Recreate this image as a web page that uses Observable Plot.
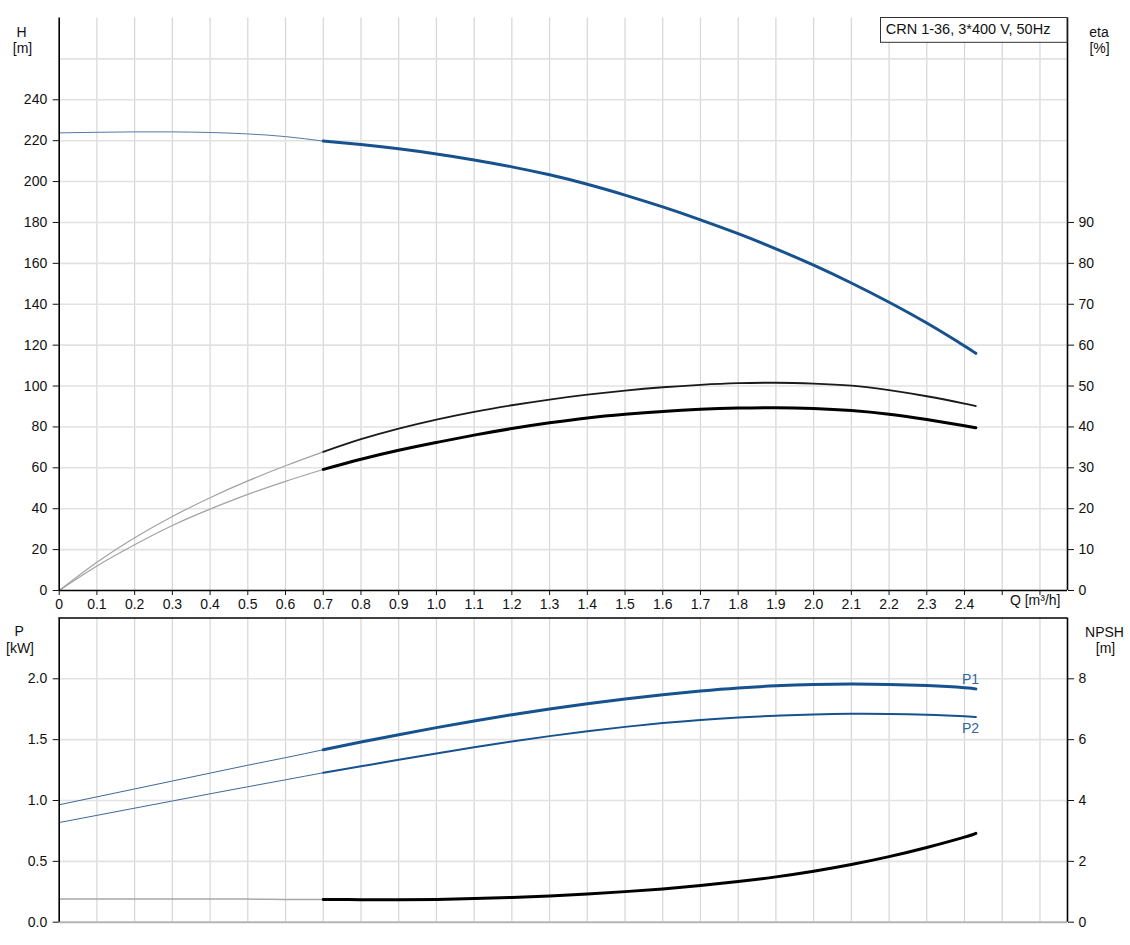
<!DOCTYPE html>
<html><head><meta charset="utf-8">
<script src="https://cdn.jsdelivr.net/npm/d3@7"></script>
<script src="https://cdn.jsdelivr.net/npm/@observablehq/plot@0.6"></script>
<style>
html,body{margin:0;padding:0;background:#fff;}
#chart{width:1130px;height:945px;position:relative;overflow:hidden;background:#fff}
#chart svg{display:block}
</style></head><body><div id="chart"></div>
<script>
// ---- data ----
const qThin  = [0, 0.1, 0.2, 0.3, 0.4, 0.5, 0.6, 0.7];
const qThick = [0.7, 0.8, 0.9, 1.0, 1.1, 1.2, 1.3, 1.4, 1.5, 1.6, 1.7, 1.8, 1.9, 2.0, 2.1, 2.2, 2.3, 2.4, 2.43];

const headThin  = [223.8, 224.1, 224.3, 224.3, 224.0, 223.3, 222.0, 219.8];
const headThick = [219.8, 218.1, 216.0, 213.5, 210.6, 207.2, 203.3, 198.7, 193.4, 187.6, 181.3, 174.5, 167.1, 159.1, 150.4, 141.0, 130.8, 119.6, 116.0];

const etaUpperThin  = [0, 6.9, 12.9, 18.1, 22.7, 26.8, 30.5, 33.9];
const etaUpperThick = [33.9, 37.0, 39.6, 41.8, 43.7, 45.3, 46.7, 47.9, 48.9, 49.7, 50.3, 50.7, 50.8, 50.6, 50.1, 49.0, 47.5, 45.7, 45.1];
const etaLowerThin  = [0, 6.0, 11.2, 15.9, 19.9, 23.5, 26.7, 29.6];
const etaLowerThick = [29.6, 32.1, 34.3, 36.2, 38.0, 39.6, 41.0, 42.2, 43.1, 43.8, 44.3, 44.6, 44.7, 44.5, 44.0, 43.1, 41.8, 40.3, 39.8];

const p1Thin  = [0.965, 1.03, 1.095, 1.16, 1.225, 1.29, 1.352, 1.417];
const p1Thick = [1.417, 1.480, 1.541, 1.599, 1.654, 1.705, 1.752, 1.795, 1.834, 1.869, 1.899, 1.924, 1.942, 1.953, 1.957, 1.954, 1.944, 1.927, 1.917];
const p2Thin  = [0.819, 0.878, 0.937, 0.996, 1.055, 1.113, 1.17, 1.228];
const p2Thick = [1.228, 1.281, 1.334, 1.386, 1.437, 1.485, 1.529, 1.569, 1.605, 1.636, 1.662, 1.682, 1.697, 1.707, 1.712, 1.711, 1.704, 1.692, 1.686];

const npshThin  = [0.76, 0.76, 0.76, 0.76, 0.76, 0.76, 0.75, 0.75];
const npshThick = [0.75, 0.74, 0.74, 0.75, 0.775, 0.815, 0.865, 0.93, 1.005, 1.095, 1.205, 1.335, 1.49, 1.675, 1.895, 2.155, 2.455, 2.795, 2.92];

// ---- axes / ticks ----
const xDomain = [0, 2.673];
const xTicks = [0,0.1,0.2,0.3,0.4,0.5,0.6,0.7,0.8,0.9,1.0,1.1,1.2,1.3,1.4,1.5,1.6,1.7,1.8,1.9,2.0,2.1,2.2,2.3,2.4,2.5,2.6];
const xTickLabels = ["0","0.1","0.2","0.3","0.4","0.5","0.6","0.7","0.8","0.9","1.0","1.1","1.2","1.3","1.4","1.5","1.6","1.7","1.8","1.9","2.0","2.1","2.2","2.3","2.4","",""];
const hDomain = [0, 280];
const hTicks = [0,20,40,60,80,100,120,140,160,180,200,220,240];
const hGrid = [20,40,60,80,100,120,140,160,180,200,220,240,260];
const etaDomain = [0, 140];
const etaTicks = [0,10,20,30,40,50,60,70,80,90];
const pDomain = [0, 2.5];
const pTicks = [0, 0.5, 1.0, 1.5, 2.0];
const pTickLabels = ["0.0","0.5","1.0","1.5","2.0"];
const npshDomain = [0, 10];
const npshTicks = [0, 2, 4, 6, 8];
const title = "CRN 1-36, 3*400 V, 50Hz";

const kEta = hDomain[1] / etaDomain[1];
const kNpsh = pDomain[1] / npshDomain[1];
const rows = (qs, vs) => qs.map((q, i) => ({q, v: vs[i]}));

const BLUE = "#17528e";
const FONT = "'Liberation Sans', Arial, sans-serif";
const VGRID = "#d4d6d8", HGRID = "#e2e2e2";
const xGrid = xTicks.slice(1);
const CURVE = "natural";

const W = 1130, ML = 58.7, MR = 63;

// ---- top panel ----
const topPlot = Plot.plot({
  width: W, height: 612,
  marginLeft: ML, marginRight: MR, marginTop: 17.5, marginBottom: 22,
  x: {domain: xDomain, axis: null},
  y: {domain: hDomain, axis: null},
  style: {fontFamily: FONT, fontSize: "14px", color: "#111", background: "transparent", overflow: "visible"},
  marks: [
    Plot.ruleX(xGrid, {stroke: VGRID, strokeWidth: 1.2}),
    Plot.ruleY(hGrid, {stroke: HGRID, strokeWidth: 1.6}),
    Plot.line(rows(qThin, etaUpperThin), {x: "q", y: d => d.v * kEta, curve: CURVE, stroke: "#a2a2a2", strokeWidth: 1.2}),
    Plot.line(rows(qThin, etaLowerThin), {x: "q", y: d => d.v * kEta, curve: CURVE, stroke: "#a2a2a2", strokeWidth: 1.2}),
    Plot.line(rows(qThick, etaUpperThick), {x: "q", y: d => d.v * kEta, curve: CURVE, stroke: "#1a1a1a", strokeWidth: 1.8}),
    Plot.line(rows(qThick, etaLowerThick), {x: "q", y: d => d.v * kEta, curve: CURVE, stroke: "#000", strokeWidth: 3}),
    Plot.line(rows(qThin, headThin), {x: "q", y: "v", curve: CURVE, stroke: "#5577a3", strokeWidth: 1}),
    Plot.line(rows(qThick, headThick), {x: "q", y: "v", curve: CURVE, stroke: BLUE, strokeWidth: 3}),
    Plot.ruleX([xDomain[0], xDomain[1]], {stroke: "#000", strokeWidth: 1.6}),
    Plot.ruleY([hDomain[0]], {stroke: "#000", strokeWidth: 1.6}),
    Plot.axisY({anchor: "left", ticks: hTicks, tickSize: 6, tickPadding: 6, tickFormat: d => String(d), label: null}),
    Plot.axisY({anchor: "right", ticks: etaTicks.map(v => v * kEta), tickSize: 6, tickPadding: 5, tickFormat: d => String(Math.round(d / kEta)), label: null}),
    Plot.axisX({anchor: "bottom", ticks: xTicks, tickSize: 5, tickPadding: 4, tickFormat: (d, i) => xTickLabels[i], label: null}),
    Plot.text(["H"], {frameAnchor: "top-left", dx: -37.7, dy: 8.7, textAnchor: "middle"}),
    Plot.text(["[m]"], {frameAnchor: "top-left", dx: -36.7, dy: 25.5, textAnchor: "middle"}),
    Plot.text(["eta"], {frameAnchor: "top-right", dx: 31.5, dy: 8.7, textAnchor: "middle"}),
    Plot.text(["[%]"], {frameAnchor: "top-right", dx: 32, dy: 25.5, textAnchor: "middle"}),
    Plot.text(["Q [m³/h]"], {frameAnchor: "bottom-right", dx: -7, dy: 14.5, textAnchor: "end"})
  ]
});

// ---- bottom panel ----
const botPlot = Plot.plot({
  width: W, height: 333,
  marginLeft: ML, marginRight: MR, marginTop: 5.45, marginBottom: 23.3,
  x: {domain: xDomain, axis: null},
  y: {domain: pDomain, axis: null},
  style: {fontFamily: FONT, fontSize: "14px", color: "#111", background: "transparent", overflow: "visible"},
  marks: [
    Plot.ruleX(xGrid, {stroke: VGRID, strokeWidth: 1.2}),
    Plot.ruleY(pTicks.slice(1), {stroke: HGRID, strokeWidth: 1.6}),
    Plot.ruleY([pDomain[0]], {stroke: "#b4b4b4", strokeWidth: 2}),
    Plot.line(rows(qThin, npshThin), {x: "q", y: d => d.v * kNpsh, curve: CURVE, stroke: "#a8a8a8", strokeWidth: 1.5}),
    Plot.line(rows(qThick, npshThick), {x: "q", y: d => d.v * kNpsh, curve: CURVE, stroke: "#000", strokeWidth: 3}),
    Plot.line(rows(qThin, p1Thin), {x: "q", y: "v", curve: CURVE, stroke: "#3f6898", strokeWidth: 1}),
    Plot.line(rows(qThin, p2Thin), {x: "q", y: "v", curve: CURVE, stroke: "#3f6898", strokeWidth: 1}),
    Plot.line(rows(qThick, p1Thick), {x: "q", y: "v", curve: CURVE, stroke: BLUE, strokeWidth: 3}),
    Plot.line(rows(qThick, p2Thick), {x: "q", y: "v", curve: CURVE, stroke: BLUE, strokeWidth: 2}),
    Plot.ruleX([xDomain[0], xDomain[1]], {stroke: "#000", strokeWidth: 1.6}),
    Plot.ruleY([pDomain[1]], {stroke: "#000", strokeWidth: 1.6}),
    Plot.axisY({anchor: "left", ticks: pTicks, tickSize: 6, tickPadding: 6, tickFormat: (d, i) => pTickLabels[i], label: null}),
    Plot.axisY({anchor: "right", ticks: npshTicks.map(v => v * kNpsh), tickSize: 6, tickPadding: 5, tickFormat: d => String(Math.round(d / kNpsh)), label: null}),
    Plot.text([{q: qThick[qThick.length - 1], v: p1Thick[p1Thick.length - 1]}], {x: "q", y: "v", text: () => "P1", textAnchor: "end", dx: 3.3, dy: -9.5, fill: "#2f66a3"}),
    Plot.text([{q: qThick[qThick.length - 1], v: p2Thick[p2Thick.length - 1]}], {x: "q", y: "v", text: () => "P2", textAnchor: "end", dx: 3.3, dy: 11.2, fill: "#2f66a3"}),
    Plot.text(["P"], {frameAnchor: "top-left", dx: -40, dy: 8.1, textAnchor: "middle"}),
    Plot.text(["[kW]"], {frameAnchor: "top-left", dx: -39.2, dy: 25.1, textAnchor: "middle"}),
    Plot.text(["NPSH"], {frameAnchor: "top-right", dx: 37, dy: 8.8, textAnchor: "middle"}),
    Plot.text(["[m]"], {frameAnchor: "top-right", dx: 38, dy: 25.1, textAnchor: "middle"})
  ]
});

const chart = document.getElementById("chart");
chart.appendChild(topPlot);
chart.appendChild(botPlot);

// legend box with the pump designation (top right of the upper frame)
const svgT = d3.select(topPlot);
const fr = W - MR;
const g = svgT.append("g");
g.append("rect").attr("x", 880.5).attr("y", 17.5).attr("width", fr - 880.5).attr("height", 24.8)
  .attr("fill", "#fff").attr("stroke", "#333").attr("stroke-width", 1);
g.append("text").attr("x", 885.7).attr("y", 34).attr("font-family", FONT).attr("font-size", 14.5)
  .attr("text-anchor", "start").attr("fill", "#111").text(title);
</script>
</body></html>
